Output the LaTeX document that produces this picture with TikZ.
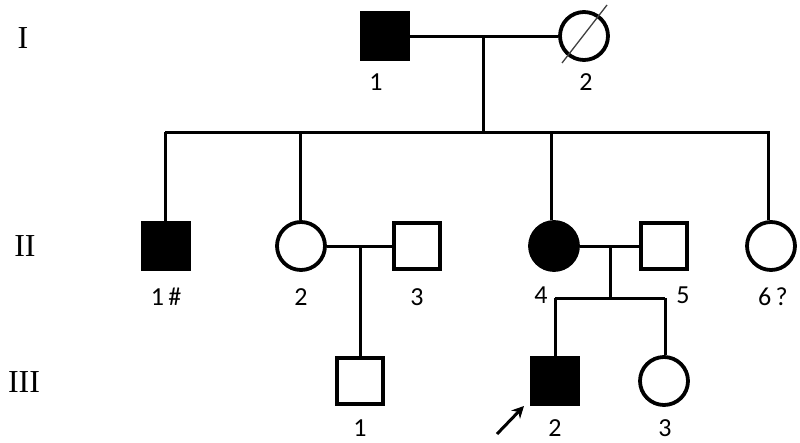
\documentclass[tikz,border=0pt]{standalone}
\usepackage{fontspec}
\setmainfont{Carlito}
\newfontfamily\romanfont{Liberation Serif}
\usetikzlibrary{arrows.meta}
\begin{document}
\begin{tikzpicture}[x=1pt,y=-1pt,
  male/.style={draw,line width=3.8pt,minimum size=46pt,inner sep=0pt,rectangle},
  female/.style={draw,line width=3.8pt,minimum size=48pt,inner sep=0pt,circle},
  aff/.style={fill=black},
  lnk/.style={line width=3pt},
  lbl/.style={font=\fontsize{26}{28}\selectfont,inner sep=0pt},
  gen/.style={font=\romanfont\fontsize{32}{34}\selectfont,inner sep=0pt}]
\useasboundingbox (0,0) rectangle (800,442);
% generation labels
\node[gen] (gI) at (23,38) {I};
\node[gen] (gII) at (25,246) {II};
\node[gen] (gIII) at (24,382) {III};
% generation I
\node[male,aff] (I1) at (385,36) {};
\node[female] (I2) at (584,36) {};
\draw[line width=1.3pt,black!75] ([shift={(-22,27)}]I2.center) -- ([shift={(23,-31)}]I2.center);
\node[lbl] (lI1) at (376,82) {1};
\node[lbl] (lI2) at (586,82) {2};
\draw[lnk] (I1) -- (I2);
\coordinate (m1) at (483,36);
\coordinate (s1) at (483,132);
\coordinate (s1L) at (165,132);
\coordinate (s1R) at (770,132);
\draw[lnk] (m1) -- (s1);
\draw[lnk] (s1L) -- (s1R);
% generation II
\node[male,aff] (II1) at (166,246) {};
\node[female] (II2) at (301,246) {};
\node[male] (II3) at (417,246) {};
\node[female,aff] (II4) at (554,246) {};
\node[male] (II5) at (664,246) {};
\node[female] (II6) at (771,246) {};
\node[lbl] (lII1) at (166,297) {1\,\#};
\node[lbl] (lII2) at (301,297) {2};
\node[lbl] (lII3) at (417,297) {3};
\node[lbl] (lII4) at (541,295) {4};
\node[lbl] (lII5) at (683,295) {5};
\node[lbl] (lII6) at (773,297) {6\,?};
\draw[lnk] ([xshift=-1pt]II1.north) -- ([xshift=-1pt]II1.north |- s1);
\draw[lnk] ([xshift=-1pt]II2.north) -- ([xshift=-1pt]II2.north |- s1);
\draw[lnk] ([xshift=-3pt]II4.north) -- ([xshift=-3pt]II4.north |- s1);
\draw[lnk] ([xshift=-3pt]II6.north) -- ([xshift=-3pt]II6.north |- s1);
\draw[lnk] (II2) -- (II3);
\draw[lnk] (II4) -- (II5);
\coordinate (m2) at (360,246);
\coordinate (m3) at (610,246);
\coordinate (s3) at (610,298);
\coordinate (s3L) at (555,298);
\coordinate (s3R) at (665,298);
% generation III
\node[male] (III1) at (360,381) {};
\node[male,aff] (III2) at (555,381) {};
\node[female] (III3) at (664,381) {};
\node[lbl] (lIII1) at (360,428) {1};
\node[lbl] (lIII2) at (555,428) {2};
\node[lbl] (lIII3) at (665,428) {3};
\draw[lnk] (m2) -- (III1.north);
\draw[lnk] (m3) -- (s3);
\draw[lnk] (s3L) -- (s3R);
\draw[lnk] (III2.north) -- (III2.north |- s3);
\draw[lnk] ([xshift=1pt]III3.north) -- ([xshift=1pt]III3.north |- s3);
% proband arrow
\coordinate (arrS) at (497,434);
\coordinate (arrE) at (524,406);
\draw[line width=3pt,-{Stealth[length=12pt,width=12pt]}] (arrS) -- (arrE);
\end{tikzpicture}
\end{document}
